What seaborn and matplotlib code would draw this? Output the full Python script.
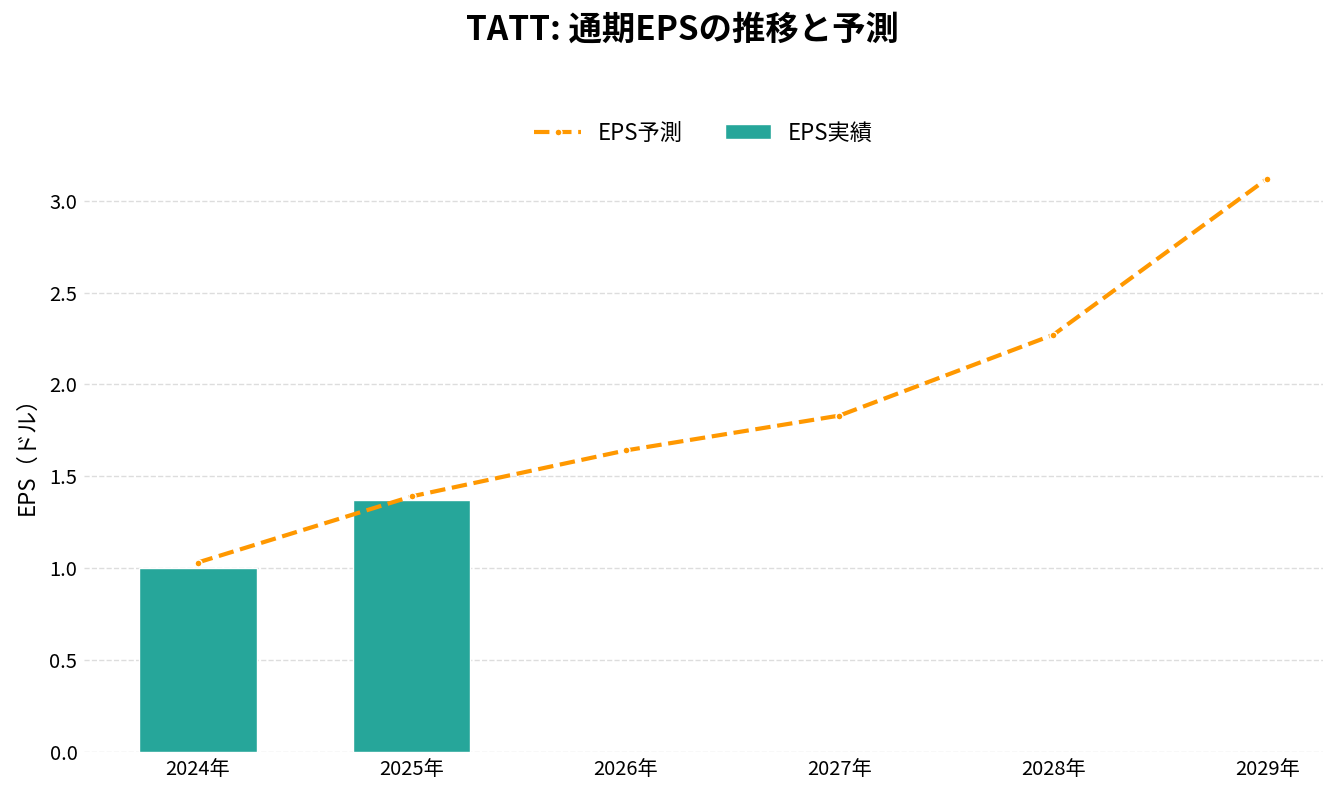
import numpy as np
import pandas as pd
import seaborn as sns
import matplotlib.pyplot as plt

years = ['2024年', '2025年', '2026年', '2027年', '2028年', '2029年']
actual_years = ['2024年', '2025年']
actual_eps = [1.00, 1.37]
forecast_eps = [1.03, 1.39, 1.64, 1.83, 2.27, 3.12]

sns.set_theme(style="white")
plt.rcParams['font.family'] = ['Noto Sans CJK JP', 'DejaVu Sans']
plt.rcParams['text.color'] = 'black'
plt.rcParams['axes.labelcolor'] = 'black'
plt.rcParams['xtick.color'] = 'black'
plt.rcParams['ytick.color'] = 'black'

fig = plt.figure(figsize=(13.39, 7.98), dpi=100)
ax = fig.add_axes([0.063, 0.058, 0.925, 0.755])

df_bar = pd.DataFrame({'year': actual_years, 'eps': actual_eps})
sns.barplot(data=df_bar, x='year', y='eps', order=years, color='#26A69A',
            saturation=1, width=0.55, label='EPS実績', ax=ax)

df_line = pd.DataFrame({'pos': np.arange(len(years)), 'eps': forecast_eps})
sns.lineplot(data=df_line, x='pos', y='eps', color='#FF9800', linewidth=3,
             linestyle='--', marker='o', markersize=5, markeredgecolor='white',
             markeredgewidth=1, label='EPS予測', ax=ax)

ax.set_xlim(-0.53, 5.26)
ax.set_ylim(0, 3.28)
ax.set_xticks(range(len(years)))
ax.set_xticklabels(years, fontsize=14.5)
ax.set_yticks(np.arange(0, 3.01, 0.5))
ax.set_yticklabels([f'{v:.1f}' for v in np.arange(0, 3.01, 0.5)], fontsize=14.5)
ax.tick_params(length=0, pad=5)
ax.set_xlabel('')
ax.set_ylabel('EPS（ドル）', fontsize=16, labelpad=8)
ax.yaxis.grid(True, linestyle='--', color='#dddddd', linewidth=1)
ax.set_axisbelow(True)
sns.despine(ax=ax, left=True, bottom=True)

h, l = ax.get_legend_handles_labels()
order = [l.index('EPS予測'), l.index('EPS実績')]
ax.legend([h[i] for i in order], [l[i] for i in order], loc='center',
          bbox_to_anchor=(0.5, 1.027), ncol=2, frameon=False, fontsize=16,
          columnspacing=1.9, handlelength=2.1, handletextpad=0.75)

fig.suptitle('TATT: 通期EPSの推移と予測', fontsize=24, fontweight='bold',
             x=0.51, y=0.962, va='center')

fig.savefig('out.png', dpi=100)
plt.close('all')
